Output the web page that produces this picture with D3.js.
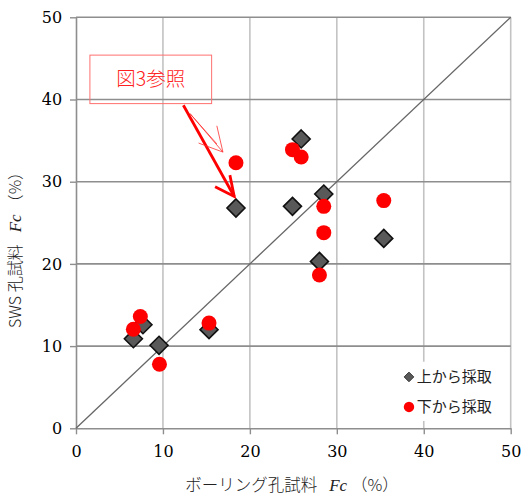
<!DOCTYPE html>
<html>
<head>
<meta charset="utf-8">
<script src="https://cdn.jsdelivr.net/npm/d3@7/dist/d3.min.js"></script>
<style>
  html, body { margin: 0; padding: 0; background: #fff; }
  svg { display: block; }
</style>
</head>
<body>
<svg id="chart" width="523" height="498"></svg>
<script>
// ---- data ----
const xTicks = [0, 10, 20, 30, 40, 50];
const yTicks = [0, 10, 20, 30, 40, 50];
const seriesNames = ["上から採取", "下から採取"];
// 上から採取 (diamonds)
const topX = [25.9, 18.4, 24.9, 28.5, 28.0, 35.4, 7.7, 6.6, 9.55, 15.3];
const topY = [35.2, 26.8, 27.0, 28.5, 20.3, 23.1, 12.6, 10.9, 10.1, 12.0];
// 下から採取 (circles)
const botX = [24.9, 25.9, 18.4, 28.5, 28.5, 28.0, 35.4, 7.4, 6.6, 9.6, 15.3];
const botY = [33.9, 33.0, 32.3, 27.0, 23.8, 18.65, 27.7, 13.6, 12.05, 7.8, 12.8];
const xLabel = "ボーリング孔試料";
const yLabel = "SWS 孔試料";
const noteText = "図3参照";

// ---- layout ----
const svg = d3.select("#chart");
const L = 76, R = 510.7, T = 17.3, B = 428.3;
const x = d3.scaleLinear().domain([0, 50]).range([L, R]);
const y = d3.scaleLinear().domain([0, 50]).range([B, T]);

// vertical grid lines (light)
svg.append("g").selectAll("line").data(xTicks.slice(1)).join("line")
  .attr("x1", d => x(d)).attr("x2", d => x(d))
  .attr("y1", T).attr("y2", B)
  .attr("stroke", "#c3c3c3").attr("stroke-width", 1.6);
// horizontal grid lines (darker)
svg.append("g").selectAll("line").data(yTicks.slice(1)).join("line")
  .attr("x1", L).attr("x2", R)
  .attr("y1", d => y(d)).attr("y2", d => y(d))
  .attr("stroke", "#8e8e8e").attr("stroke-width", 1.6);

// axes
const xAxis = d3.axisBottom(x).tickValues(xTicks).tickSize(6).tickSizeOuter(0);
const yAxis = d3.axisLeft(y).tickValues(yTicks).tickSize(6).tickSizeOuter(0);
const gx = svg.append("g").attr("transform", `translate(0,${B})`).call(xAxis);
const gy = svg.append("g").attr("transform", `translate(${L},0)`).call(yAxis);
[gx, gy].forEach(g => {
  g.select(".domain").attr("stroke", "#8e8e8e").attr("stroke-width", 1.6);
  g.selectAll(".tick line").attr("stroke", "#8e8e8e").attr("stroke-width", 1.4);
  g.selectAll(".tick text")
    .attr("font-family", "'DejaVu Serif', serif")
    .attr("font-size", 16).attr("fill", "#000");
});
gx.selectAll(".tick text").attr("dy", "1.25em");
gy.selectAll(".tick text").attr("dx", "-0.3em");

// diagonal 1:1
svg.append("line")
  .attr("x1", x(0)).attr("y1", y(0)).attr("x2", x(50)).attr("y2", y(50))
  .attr("stroke", "#666").attr("stroke-width", 1.3);

// diamonds
const dSize = 9;
const diamond = (cx, cy, s) => `M${cx},${cy - s}L${cx + s},${cy}L${cx},${cy + s}L${cx - s},${cy}Z`;
svg.append("g").selectAll("path").data(topX.map((v, i) => [v, topY[i]])).join("path")
  .attr("d", d => diamond(x(d[0]), y(d[1]), dSize))
  .attr("fill", "#595959").attr("stroke", "#111").attr("stroke-width", 1.6);
// circles
svg.append("g").selectAll("circle").data(botX.map((v, i) => [v, botY[i]])).join("circle")
  .attr("cx", d => x(d[0])).attr("cy", d => y(d[1])).attr("r", 7.5)
  .attr("fill", "#ff0000");

// legend
const lg = svg.append("g");
lg.append("rect").attr("x", x(38.1)).attr("y", y(8.1)).attr("width", x(49.8) - x(38.1)).attr("height", y(0.9) - y(8.1))
  .attr("fill", "#fff");
const legY = [y(6.25), y(2.6)];
lg.append("path").attr("d", diamond(x(38.3), legY[0], 4.8)).attr("fill", "#595959").attr("stroke", "#333").attr("stroke-width", 1);
lg.append("circle").attr("cx", x(38.3)).attr("cy", legY[1]).attr("r", 5.2).attr("fill", "#ff0000");
seriesNames.forEach((n, i) => {
  lg.append("text").attr("x", x(39.2)).attr("y", legY[i]).attr("dy", "0.36em")
    .attr("font-family", "'Noto Sans CJK JP', sans-serif").attr("font-size", 15).attr("fill", "#222")
    .text(n);
});

// annotation
const ann = svg.append("g");
ann.append("rect").attr("x", x(1.6)).attr("y", y(45.4)).attr("width", x(15.6) - x(1.6)).attr("height", y(39.5) - y(45.4))
  .attr("fill", "none").attr("stroke", "#ff7070").attr("stroke-width", 1);
ann.append("text").attr("x", (x(1.6) + x(15.6)) / 2).attr("y", (y(45.4) + y(39.5)) / 2).attr("dy", "0.36em")
  .attr("text-anchor", "middle").attr("font-family", "'Noto Sans CJK JP', sans-serif").attr("font-weight", 300)
  .attr("font-size", 19.5).attr("fill", "#ff2020").text(noteText);
// thick arrow
ann.append("line").attr("x1", x(12.35)).attr("y1", y(39.3)).attr("x2", x(18.2)).attr("y2", y(28.2))
  .attr("stroke", "#ff0000").attr("stroke-width", 2.8);
ann.append("path")
  .attr("d", `M${x(16.0)},${y(29.4)}L${x(18.2)},${y(28.2)}L${x(17.7)},${y(30.8)}`)
  .attr("fill", "none").attr("stroke", "#ff0000").attr("stroke-width", 2.8).attr("stroke-linejoin", "miter");
// thin arrow
ann.append("path")
  .attr("d", `M${x(13.1)},${y(38.3)}L${x(16.9)},${y(33.6)}M${x(13.1)},${y(38.3)}L${x(16.2)},${y(34.6)}`)
  .attr("fill", "none").attr("stroke", "#ff3030").attr("stroke-width", 0.8);
ann.append("path")
  .attr("d", `M${x(14.1)},${y(34.7)}L${x(16.9)},${y(33.6)}L${x(16.2)},${y(36.8)}`)
  .attr("fill", "none").attr("stroke", "#ff3030").attr("stroke-width", 0.8);

// axis titles
function axisTitle(sel, label) {
  sel.append("tspan").attr("font-family", "'Noto Sans CJK JP', serif").attr("font-weight", 300).text(label);
  sel.append("tspan").attr("dx", 12).attr("font-family", "'Liberation Serif', 'DejaVu Serif', serif")
    .attr("font-style", "italic").attr("font-size", 17).text("Fc");
  sel.append("tspan").attr("dx", 4).attr("font-family", "'Noto Sans CJK JP', serif").attr("font-weight", 300).text("（%）");
}
const xt = svg.append("text").attr("x", 292).attr("y", 491).attr("text-anchor", "middle")
  .attr("font-size", 16.5).attr("fill", "#222");
axisTitle(xt, xLabel);

const yt = svg.append("text").attr("transform", `translate(21,246) rotate(-90)`).attr("text-anchor", "middle")
  .attr("font-size", 16).attr("fill", "#222");
axisTitle(yt, yLabel);
</script>
</body>
</html>
